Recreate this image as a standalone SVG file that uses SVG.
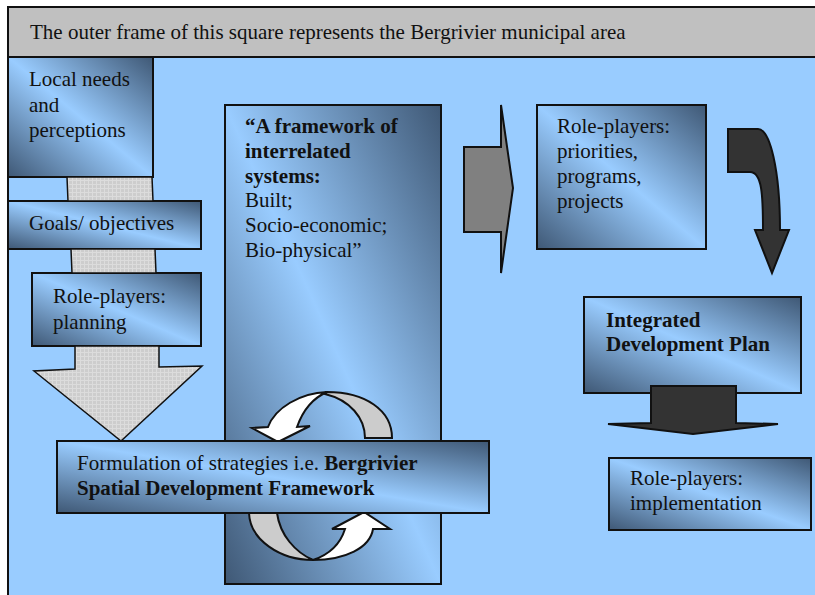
<svg xmlns="http://www.w3.org/2000/svg" width="815" height="595" viewBox="0 0 815 595">
<style>
text{font-family:"Liberation Serif","Times New Roman",serif;font-size:21px;fill:#111}
.b{font-weight:bold}
.box{fill:url(#g);stroke:#111;stroke-width:2}
.hatch{fill:url(#h);stroke:#111;stroke-width:1.5}
.ln{stroke:#111;stroke-width:2;stroke-linejoin:miter}
</style>
<defs>
<linearGradient id="g" x1="1" y1="0" x2="0" y2="1">
<stop offset="0" stop-color="#3f5875"/>
<stop offset="0.5" stop-color="#99ccff"/>
<stop offset="1" stop-color="#3f5875"/>
</linearGradient>
<pattern id="h" width="4" height="4" patternUnits="userSpaceOnUse">
<rect width="4" height="4" fill="#cdcdcd"/>
<path d="M0,0.5H4M0.5,0V4" stroke="#dcdcdc" stroke-width="1"/>
</pattern>
</defs>
<rect x="8" y="7" width="830" height="610" fill="#99ccff" stroke="#111" stroke-width="2"/>
<g id="header">
<rect x="8" y="7" width="830" height="50" fill="#c0c0c0" stroke="#111" stroke-width="2"/>
<text x="30" y="39">The outer frame of this square represents the Bergrivier municipal area</text>
</g>
<g id="local-needs">
<rect class="box" x="8" y="57" width="145" height="120"/>
<text x="29" y="86">Local needs</text>
<text x="29" y="112">and</text>
<text x="29" y="137">perceptions</text>
</g>
<g id="goals">
<rect class="box" x="8" y="201" width="193" height="48"/>
<text x="29" y="230">Goals/ objectives</text>
</g>
<g id="planning">
<rect class="box" x="32" y="273" width="169" height="73"/>
<text x="53" y="303">Role-players:</text>
<text x="53" y="329">planning</text>
</g>
<g id="framework">
<rect class="box" x="225" y="105" width="216" height="479"/>
<text x="245" y="133" class="b">“A framework of</text>
<text x="245" y="158" class="b">interrelated</text>
<text x="245" y="183" class="b">systems:</text>
<text x="245" y="207">Built;</text>
<text x="245" y="232">Socio-economic;</text>
<text x="245" y="257">Bio-physical”</text>
</g>
<g id="priorities">
<rect class="box" x="537" y="105" width="169" height="144"/>
<text x="557" y="133">Role-players:</text>
<text x="557" y="158">priorities,</text>
<text x="557" y="183">programs,</text>
<text x="557" y="208">projects</text>
</g>
<g id="idp">
<rect class="box" x="584" y="297" width="217" height="96"/>
<text x="606" y="327" class="b">Integrated</text>
<text x="606" y="351" class="b">Development Plan</text>
</g>
<g id="implementation">
<rect class="box" x="609" y="458" width="202" height="72"/>
<text x="630" y="485">Role-players:</text>
<text x="630" y="510">implementation</text>
</g>
<g id="connectors">
<polygon class="hatch" points="67,177 152,177 153,201 68,201"/>
<polygon class="hatch" points="71,249 155,249 156,273 72,273"/>
<polygon class="hatch" points="75,346 159,346 159,367 202,366 121,441 34,371 75,369"/>
<polygon class="ln" fill="#808080" points="464,147 501,147 501,105 513,188 501,273 501,232 464,232"/>
<path class="ln" fill="#333" d="M728,129 L758,129 C770,129 780,170 780,230 L789,230 L772,273 L755,230 L763,230 C763,195 762,172 750,172 L728,172 Z"/>
<path class="ln" fill="#333" d="M651,386 L736,386 L736,423 L778,424 L693,434 L608,424 L651,423 Z"/>
<path class="ln" fill="#cccccc" d="M392,438 C392,410 365,392 327,392 L325,394 C350,400 365,418 365,438 Z"/>
<path class="ln" fill="#ffffff" d="M327,392 C300,393 275,408 268,427 L252,428 L278,442 L310,426 L297,427 C303,410 313,398 327,392 Z"/>
<path class="ln" fill="#cccccc" d="M249,513 L277,513 C280,535 295,552 313,560 C280,560 250,540 249,513 Z"/>
<path class="ln" fill="#ffffff" d="M313,560 C345,560 370,548 373,529 L390,529 L364,512 L332,529 L345,529 C340,545 328,555 313,560 Z"/>
</g>
<g id="formulation">
<rect class="box" x="57" y="441" width="432" height="72"/>
<text x="77" y="470">Formulation of strategies i.e. <tspan class="b">Bergrivier</tspan></text>
<text x="77" y="495" class="b">Spatial Development Framework</text>
</g>
</svg>
